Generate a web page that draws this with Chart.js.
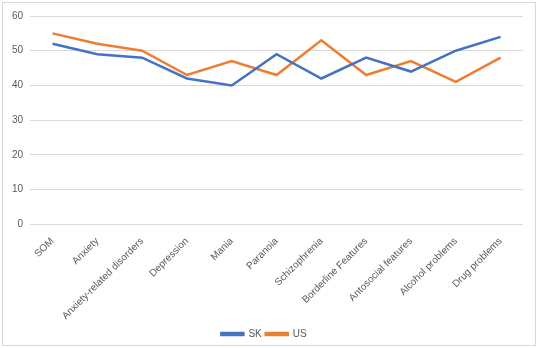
<!DOCTYPE html>
<html>
<head>
<meta charset="utf-8">
<script src="https://cdn.jsdelivr.net/npm/chart.js@4"></script>
<style>
    html, body { margin: 0; padding: 0; background: #fff; }
    .frame {
        position: absolute;
        left: 2px; top: 2px;
        width: 532px; height: 342px;
        border: 1px solid #d9d9d9;
    }
    canvas { display: block; }
</style>
</head>
<body>
<div class="frame"><canvas id="chart" width="532" height="342"></canvas></div>
<script>
const categories = [
    "SOM", "Anxiety", "Anxiety-related disorders", "Depression", "Mania",
    "Paranoia", "Schizophrenia", "Borderline Features", "Antosocial features",
    "Alcohol problems", "Drug problems"
];
const skValues = [52, 49, 48, 42, 40, 49, 42, 48, 44, 50, 54];
const usValues = [55, 52, 50, 43, 47, 43, 53, 43, 47, 41, 48];
const yTicks = { min: 0, max: 60, step: 10 };

const ctx = document.getElementById("chart").getContext("2d");
const textColor = "#595959";
const gridColor = "#d9d9d9";

new Chart(ctx, {
    type: "line",
    data: {
        labels: categories,
        datasets: [
            {
                label: "SK",
                data: skValues,
                borderColor: "#4472c4",
                backgroundColor: "#4472c4",
                borderWidth: 2.5,
                pointRadius: 0,
                tension: 0,
            },
            {
                label: "US",
                data: usValues,
                borderColor: "#ed7d31",
                backgroundColor: "#ed7d31",
                borderWidth: 2.5,
                pointRadius: 0,
                tension: 0,
            },
        ],
    },
    options: {
        responsive: false,
        animation: false,
        layout: { padding: { left: 2, right: 12, top: 8, bottom: -4 } },
        plugins: {
            legend: {
                position: "bottom",
                labels: {
                    color: textColor,
                    font: { family: "Liberation Sans", size: 10 },
                    boxWidth: 22,
                    boxHeight: 2,
                    padding: 4,
                },
            },
            tooltip: { enabled: false },
        },
        scales: {
            x: {
                offset: true,
                grid: { display: false },
                border: { display: false },
                ticks: {
                    color: textColor,
                    font: { family: "Liberation Sans", size: 10 },
                    minRotation: 45,
                    maxRotation: 45,
                    autoSkip: false,
                    padding: 3,
                },
            },
            y: {
                min: yTicks.min,
                max: yTicks.max,
                grid: { color: gridColor, drawTicks: false },
                border: { display: false },
                ticks: {
                    stepSize: yTicks.step,
                    color: textColor,
                    font: { family: "Liberation Sans", size: 10 },
                    padding: 7,
                },
            },
        },
    },
});
</script>
</body>
</html>
